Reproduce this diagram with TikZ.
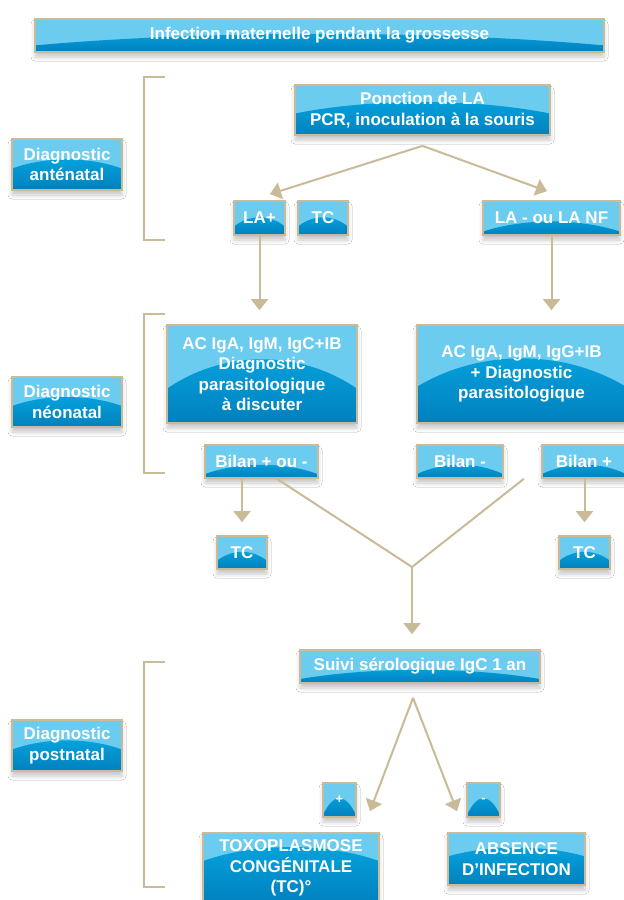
\documentclass[tikz,border=0pt]{standalone}
\usepackage{fontspec}
\setmainfont{Liberation Sans}
\usetikzlibrary{arrows.meta,calc,shadows.blur}
\definecolor{sable}{RGB}{201,186,152}
\definecolor{bluetop}{RGB}{108,204,240}
\definecolor{bluemid}{RGB}{6,164,222}
\definecolor{bluelow}{RGB}{0,128,190}
\tikzset{
	box/.style={draw=sable, line width=1.7pt, fill=bluetop, text=white, align=center,
		inner sep=0pt, font=\bfseries\fontsize{17}{20.5}\selectfont,
		blur shadow={shadow xshift=0pt, shadow yshift=-5pt, shadow blur radius=4pt, shadow opacity=22}},
	dome/.style 2 args={path picture={
		\path (path picture bounding box.south west) coordinate (dsw)
		      (path picture bounding box.north east) coordinate (dne);
		\shade[top color=bluemid, bottom color=bluelow] let \p1=(dsw), \p2=(dne), \n1={\y2-\y1}, \n2={\x2-\x1} in
			(\x1,\y1) -- (\x1,{\y1+#1*\n1})
			.. controls ({\x1+0.3*\n2},{\y1+(4*#2-#1)/3*\n1}) and ({\x2-0.3*\n2},{\y1+(4*#2-#1)/3*\n1}) .. (\x2,{\y1+#1*\n1})
			-- (\x2,\y1) -- cycle;
	}},
	conn/.style={draw=sable, line width=2pt, -{Triangle[width=17pt,length=11pt]}},
	link/.style={draw=sable, line width=2pt},
	bracket/.style={draw=sable, line width=2pt}
}

\begin{document}
\begin{tikzpicture}[x=1pt,y=-1pt]
	\useasboundingbox[fill=white] (0,0) rectangle (624,900);
	
	%%%%% top %%%%%
	\node[box, dome={0.2}{0.55}, minimum width=569pt, minimum height=33pt] (inf) at (319.5,35.5) {Infection maternelle pendant la grossesse};
	
	%%%%% antenatal %%%%%
	\draw[bracket] (165,77) -| (144,240) -- (165,240);
	\node[box, dome={0.42}{0.6}, minimum width=110pt, minimum height=51pt] (diaga) at (67,164.5) {Diagnostic\\anténatal};
	\node[box, dome={0.43}{0.66}, minimum width=255pt, minimum height=50pt] (ponc) at (422.5,110) {Ponction de LA\\PCR, inoculation à la souris};
	\node[box, dome={0.25}{0.52}, minimum width=51pt, minimum height=34pt] (laplus) at (259.5,218) {LA+};
	\node[box, dome={0.25}{0.52}, minimum width=50pt, minimum height=34pt] (tca) at (323,218) {TC};
	\node[box, dome={0.1}{0.4}, minimum width=137pt, minimum height=34pt] (lanf) at (551.5,218) {LA - ou LA NF};
	
	\coordinate (fork1) at ($(ponc.south)+(0,10)$);
	\draw[conn] (fork1) -- ([shift={(10.5,-6)}]laplus.north);
	\draw[conn] (fork1) -- ([shift={(-4.5,-9)}]lanf.north);
	
	%%%%% neonatal %%%%%
	\draw[bracket] (165,314) -| (144,473) -- (165,473);
	\node[box, dome={0.42}{0.6}, minimum width=110pt, minimum height=50pt] (diagn) at (67,402) {Diagnostic\\néonatal};
	\node[box, dome={0.35}{0.65}, minimum width=190pt, minimum height=98pt] (acl) at (262,374) {AC IgA, IgM, IgC+IB\\Diagnostic\\parasitologique\\à discuter};
	\node[box, dome={0.37}{0.66}, minimum width=209pt, minimum height=98pt] (acr) at (521.5,374) {AC IgA, IgM, IgG+IB\\+ Diagnostic\\parasitologique};
	\draw[conn, shorten >=14pt] (laplus.south) -- (laplus.south |- acl.north);
	\draw[conn, shorten >=14pt] (lanf.south) -- (lanf.south |- acr.north);
	
	\node[box, dome={0.12}{0.4}, minimum width=113pt, minimum height=33pt] (bila) at (261.5,461.5) {Bilan + ou -};
	\node[box, dome={0.12}{0.4}, minimum width=86pt, minimum height=33pt] (bilb) at (460,461.5) {Bilan -};
	\node[box, dome={0.12}{0.4}, minimum width=84pt, minimum height=33pt] (bilc) at (584,461.5) {Bilan +};
	\node[box, dome={0.25}{0.52}, minimum width=50pt, minimum height=33pt] (tcb) at (242,552.5) {TC};
	\node[box, dome={0.25}{0.52}, minimum width=51pt, minimum height=33pt] (tcc) at (584.5,552.5) {TC};
	\draw[conn, shorten >=13pt] (bila.south -| tcb.north) -- (tcb.north);
	\draw[conn, shorten >=13pt] (bilc.south -| tcc.north) -- (tcc.north);
	
	\coordinate (fork2) at (412,567);
	\draw[link] ([xshift=15.5pt]bila.south) -- (fork2) -- ([xshift=20pt]bilb.south east);
	
	%%%%% postnatal %%%%%
	\draw[bracket] (165,662) -| (144,887) -- (165,887);
	\node[box, dome={0.42}{0.6}, minimum width=110pt, minimum height=51pt] (diagp) at (67,745.5) {Diagnostic\\postnatal};
	\node[box, dome={0.12}{0.4}, minimum width=240pt, minimum height=33pt] (suivi) at (420,666.5) {Suivi sérologique IgC 1 an};
	\draw[conn, shorten >=15pt] (fork2) -- (fork2 |- suivi.north);
	
	\node[box, dome={0.05}{0.55}, minimum width=33pt, minimum height=34pt, font=\bfseries\fontsize{13}{15}\selectfont] (plus) at (339.5,800) {+};
	\node[box, dome={0.05}{0.55}, minimum width=33pt, minimum height=34pt, font=\bfseries\fontsize{13}{15}\selectfont] (minus) at (483.5,800) {-};
	\node[box, dome={0.6}{0.8}, minimum width=176pt, minimum height=70pt] (toxo) at (291,868) {TOXOPLASMOSE\\CONGÉNITALE\\(TC)°};
	\node[box, dome={0.55}{0.72}, minimum width=137pt, minimum height=52pt] (absi) at (516.5,859) {ABSENCE\\D’INFECTION};
	
	\coordinate (fork3) at ($(suivi.south)+(-7,14)$);
	\draw[conn] (fork3) -- ([shift={(79,-21)}]toxo.north);
	\draw[conn] (fork3) -- ([shift={(-59.5,-21)}]absi.north);
\end{tikzpicture}
\end{document}
